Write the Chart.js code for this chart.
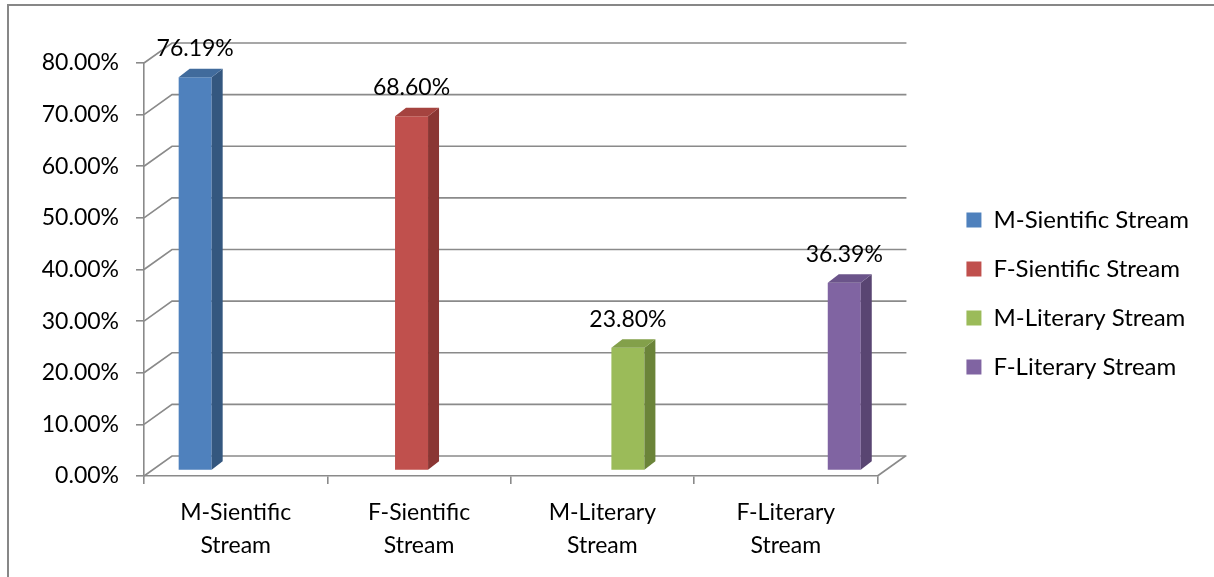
<!DOCTYPE html>
<html>
<head>
<meta charset="utf-8">
<script src="https://cdn.jsdelivr.net/npm/chart.js@4"></script>
<style>
  html, body { margin: 0; padding: 0; background: #fff; }
  #wrap { width: 1214px; height: 577px; }
</style>
</head>
<body>
<div id="wrap"><canvas id="streamChart" width="1214" height="577"></canvas></div>
<script>
// Pass rates by stream and gender
const categories = ['M-Sientific Stream', 'F-Sientific Stream', 'M-Literary Stream', 'F-Literary Stream'];
const axisLabels = [['M-Sientific', 'Stream'], ['F-Sientific', 'Stream'], ['M-Literary', 'Stream'], ['F-Literary', 'Stream']];
const rates = [76.19, 68.60, 23.80, 36.39];
const yTicks = [0, 10, 20, 30, 40, 50, 60, 70, 80];

const frontColors = ['#4f81bd', '#c0504d', '#9bbb59', '#8064a2'];
const sideColors  = ['#34577f', '#8a3633', '#6b8439', '#594572'];
const topColors   = ['#416b9c', '#a5433f', '#83a04a', '#6b548a'];

const GRID = '#8a8a8a';
const WALL_DX = 28, WALL_DY = -20;   // depth of the back wall
const BAR_DX = 9, BAR_DY = -5.5;     // bars sit a bit behind the front plane
const DEPTH_DX = 11, DEPTH_DY = -8.5; // bar thickness

const fontFamily = 'Lato, "Open Sans", sans-serif';

// one dataset per stream, each only filled in its own column
const datasets = categories.map((name, i) => ({
  label: name,
  data: categories.map((c, j) => (j === i ? rates[i] : null)),
  backgroundColor: frontColors[i],
  borderWidth: 0
}));

const walls3d = {
  id: 'walls3d',
  beforeDatasetsDraw(chart) {
    const ctx = chart.ctx;
    const y = chart.scales.y;
    const area = chart.chartArea;
    ctx.save();
    ctx.strokeStyle = GRID;
    ctx.lineWidth = 1.6;
    yTicks.forEach(v => {
      const py = y.getPixelForValue(v);
      ctx.beginPath();
      ctx.moveTo(area.left, py);
      ctx.lineTo(area.left + WALL_DX, py + WALL_DY);
      ctx.lineTo(area.right + WALL_DX + 1, py + WALL_DY);
      ctx.stroke();
    });
    // right edge of the floor
    const by = y.getPixelForValue(0);
    ctx.beginPath();
    ctx.moveTo(area.right, by);
    ctx.lineTo(area.right + WALL_DX, by + WALL_DY);
    ctx.stroke();
    ctx.restore();

    // shift the bars back into the box
    ctx.save();
    ctx.translate(BAR_DX, BAR_DY);
  },
  afterDatasetsDraw(chart) {
    const ctx = chart.ctx;
    chart.data.datasets.forEach((ds, i) => {
      const meta = chart.getDatasetMeta(i);
      meta.data.forEach((bar, j) => {
        if (ds.data[j] == null) return;
        const l = bar.x - bar.width / 2, r = bar.x + bar.width / 2;
        ctx.fillStyle = sideColors[i];
        ctx.beginPath();
        ctx.moveTo(r, bar.y);
        ctx.lineTo(r + DEPTH_DX, bar.y + DEPTH_DY);
        ctx.lineTo(r + DEPTH_DX, bar.base + DEPTH_DY);
        ctx.lineTo(r, bar.base);
        ctx.closePath();
        ctx.fill();
        ctx.fillStyle = topColors[i];
        ctx.beginPath();
        ctx.moveTo(l, bar.y);
        ctx.lineTo(l + DEPTH_DX, bar.y + DEPTH_DY);
        ctx.lineTo(r + DEPTH_DX, bar.y + DEPTH_DY);
        ctx.lineTo(r, bar.y);
        ctx.closePath();
        ctx.fill();
      });
    });
    ctx.restore();

    // value labels above each bar
    ctx.save();
    ctx.font = '23px ' + fontFamily;
    ctx.fillStyle = '#000';
    ctx.textAlign = 'center';
    ctx.textBaseline = 'middle';
    chart.data.datasets.forEach((ds, i) => {
      const meta = chart.getDatasetMeta(i);
      meta.data.forEach((bar, j) => {
        if (ds.data[j] == null) return;
        ctx.fillText(ds.data[j].toFixed(2) + '%', bar.x + BAR_DX, bar.y + BAR_DY + DEPTH_DY - 20);
      });
    });
    ctx.restore();
  },
  afterDraw(chart) {
    // chart frame (top and left edges)
    const ctx = chart.ctx;
    ctx.save();
    ctx.strokeStyle = '#878787';
    ctx.lineWidth = 2;
    ctx.beginPath();
    ctx.moveTo(8, chart.height);
    ctx.lineTo(8, 5);
    ctx.lineTo(chart.width, 5);
    ctx.stroke();
    ctx.restore();
  }
};

new Chart(document.getElementById('streamChart').getContext('2d'), {
  type: 'bar',
  data: { labels: axisLabels, datasets: datasets },
  options: {
    responsive: false,
    animation: false,
    categoryPercentage: 0.72,
    barPercentage: 1,
    layout: { padding: { top: 10, right: 15, left: 0, bottom: 0 } },
    scales: {
      x: {
        grid: { display: true, drawOnChartArea: false, drawTicks: true, tickLength: 8, color: GRID, lineWidth: 1.6 },
        border: { display: true, color: GRID, width: 1.6 },
        ticks: {
          color: '#000',
          font: { family: fontFamily, size: 23, lineHeight: 1.45 },
          padding: 12,
          maxRotation: 0
        },
        afterFit(scale) { scale.height = 101; }
      },
      y: {
        min: 0,
        max: 80,
        grid: { display: true, drawOnChartArea: false, drawTicks: true, tickLength: 8, color: GRID, lineWidth: 1.6 },
        border: { display: true, color: GRID, width: 1.6 },
        ticks: {
          stepSize: 10,
          color: '#000',
          font: { family: fontFamily, size: 23 },
          padding: 17,
          callback: v => v.toFixed(2) + '%'
        },
        afterFit(scale) { scale.width = 144; }
      },
      // empty gap between the plot box and the legend
      gap: {
        type: 'linear',
        axis: 'y',
        position: 'right',
        grid: { display: false },
        border: { display: false },
        ticks: { display: false },
        afterFit(scale) { scale.width = 64; }
      }
    },
    plugins: {
      // blank spacer above the plot only, so the legend keeps the full height
      title: {
        display: true,
        text: ' ',
        fullSize: false,
        font: { size: 10, lineHeight: 1 },
        padding: { top: 0, bottom: 43 }
      },
      legend: {
        position: 'right',
        maxWidth: 400,
        labels: {
          color: '#000',
          font: { family: fontFamily, size: 24 },
          boxWidth: 15,
          boxHeight: 15,
          padding: 25
        }
      },
      tooltip: { enabled: false }
    }
  },
  plugins: [walls3d]
});
</script>
</body>
</html>
